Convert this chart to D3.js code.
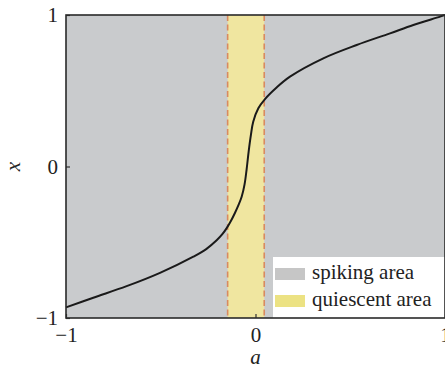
<!DOCTYPE html>
<html><head><meta charset="utf-8">
<script src="https://cdn.jsdelivr.net/npm/d3@7"></script>
<style>body{margin:0;background:#fff}svg{display:block}text{font-family:"Liberation Serif","Times New Roman",serif;fill:#222}</style>
</head><body>
<script>
const aVals = [-1, -0.856, -0.68, -0.504, -0.328, -0.26, -0.205, -0.175, -0.152, -0.13, -0.108, -0.09, -0.073, -0.058, -0.047, -0.036, -0.024, -0.012, 0.015, 0.05, 0.11, 0.182, 0.358, 0.534, 0.71, 0.833, 0.974, 1];
const xVals = [-0.93, -0.866, -0.79, -0.702, -0.595, -0.545, -0.487, -0.447, -0.407, -0.36, -0.305, -0.255, -0.2, -0.12, -0.02, 0.1, 0.21, 0.296, 0.384, 0.445, 0.52, 0.593, 0.714, 0.802, 0.879, 0.934, 0.989, 1.0];
const quiescent = [-0.147, 0.046];
const xTicks = [-1, 0, 1];
const yTicks = [-1, 0, 1];
const legendLabels = ["spiking area", "quiescent area"];
const colors = {spiking: "#c9cbcd", quiescent: "#f0e6a0", dash: "#d98a60", line: "#1a1a1a"};

const W = 445, H = 371;
const L = 66, R = 445, T = 15, B = 318;
const svg = d3.select("body").append("svg").attr("width", W).attr("height", H);
const x = d3.scaleLinear().domain([-1, 1]).range([L, R]);
const y = d3.scaleLinear().domain([-1, 1]).range([B, T]);

svg.append("rect").attr("x", L).attr("y", T).attr("width", R - L).attr("height", B - T).attr("fill", colors.spiking);
svg.append("rect").attr("x", x(quiescent[0])).attr("y", T).attr("width", x(quiescent[1]) - x(quiescent[0])).attr("height", B - T).attr("fill", colors.quiescent);
quiescent.forEach(q => {
  svg.append("line").attr("x1", x(q)).attr("x2", x(q)).attr("y1", T).attr("y2", B)
    .attr("stroke", colors.dash).attr("stroke-width", 1.6).attr("stroke-dasharray", "6,3.5");
});

const pts = aVals.map((a, i) => [a, xVals[i]]);
svg.append("path").datum(pts)
  .attr("d", d3.line().x(d => x(d[0])).y(d => y(d[1])).curve(d3.curveCatmullRom.alpha(0.5)))
  .attr("fill", "none").attr("stroke", colors.line).attr("stroke-width", 2);

// legend
const lg = svg.append("g");
lg.append("rect").attr("x", 273).attr("y", 257).attr("width", 172).attr("height", 61).attr("fill", "#fff");
["#c6c6c6", "#ece283"].forEach((c, i) => {
  lg.append("rect").attr("x", 275).attr("y", 268 + i * 27).attr("width", 30).attr("height", 12).attr("fill", c);
  lg.append("text").attr("x", 312).attr("y", 279 + i * 27).attr("font-size", 21).text(legendLabels[i]);
});

// axes
const fmt = d => d === 0 ? "0" : (d < 0 ? "\u22121" : "1");
const xAxis = d3.axisBottom(x).tickValues(xTicks).tickSize(-4).tickPadding(9).tickFormat(fmt);
const gx = svg.append("g").attr("transform", `translate(0,${B})`).call(xAxis);
const yAxis = d3.axisLeft(y).tickValues(yTicks).tickSize(-4).tickPadding(9).tickFormat(fmt);
const gy = svg.append("g").attr("transform", `translate(${L},0)`).call(yAxis);
[gx, gy].forEach(g => {
  g.select(".domain").remove();
  g.selectAll(".tick line").attr("stroke", "#333").attr("stroke-width", 1.2);
  g.selectAll("text").attr("font-size", 21).attr("fill", "#222").style("font-family", '"Liberation Serif",serif');
});
gy.selectAll(".tick text").attr("x", -8);

svg.append("rect").attr("x", L).attr("y", T).attr("width", R - L).attr("height", B - T)
  .attr("fill", "none").attr("stroke", "#2a2a2a").attr("stroke-width", 1.6);

svg.append("text").attr("x", x(0)).attr("y", 364).attr("text-anchor", "middle").attr("font-size", 21).attr("font-style", "italic").text("a");
svg.append("text").attr("transform", `translate(20,${y(0)}) rotate(-90)`).attr("text-anchor", "middle").attr("font-size", 21).attr("font-style", "italic").text("x");
</script>
</body></html>
